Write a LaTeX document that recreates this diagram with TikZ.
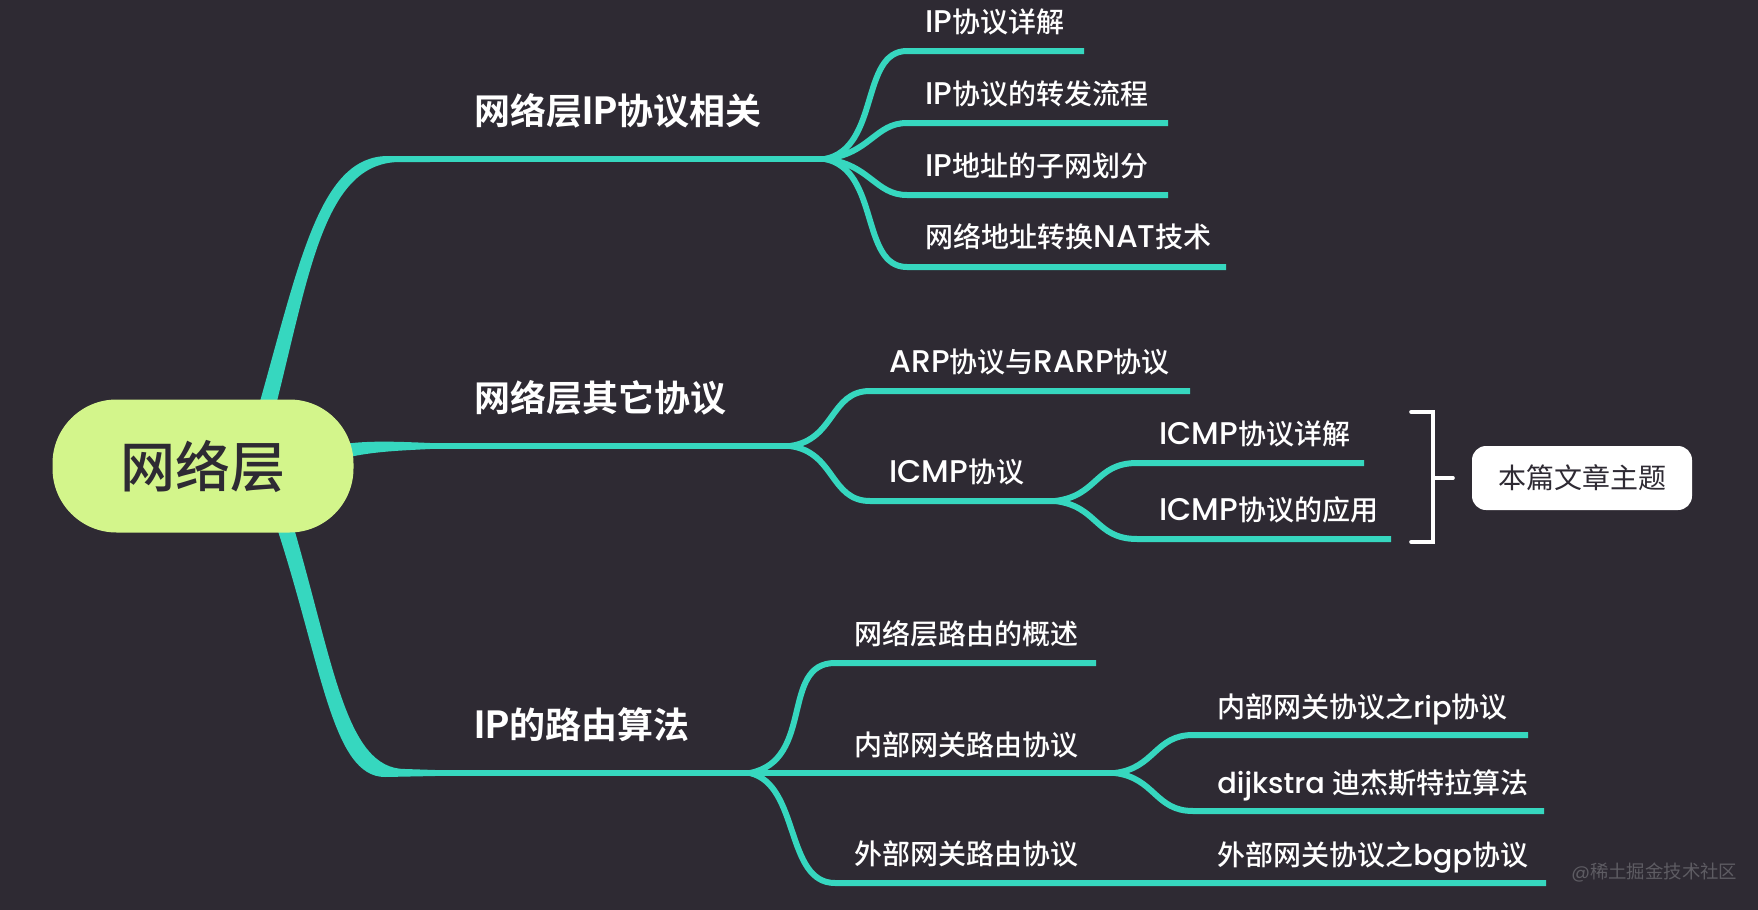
\documentclass[tikz,border=0pt]{standalone}
\usepackage{fontspec}
\setmainfont{Poppins}
\newfontfamily\cjkm{Noto Sans CJK SC Medium}
\newfontfamily\cjkb{Noto Sans CJK SC Bold}
\newfontfamily\cjkr{Noto Sans CJK SC}
\newfontfamily\latb{Poppins SemiBold}
\newfontfamily\latm{Poppins Medium}[Scale=1.03]
\newfontfamily\latcap{Poppins Medium}[Scale=1.12]
\newfontfamily\latbcap{Poppins SemiBold}[Scale=1.1]
\newcommand\zm[1]{{\cjkm #1}}
\newcommand\zb[1]{{\cjkb #1}}
\newcommand\cp[1]{{\latcap #1}}
\newcommand\cpb[1]{{\latbcap #1}}
\definecolor{bgc}{HTML}{2E2A33}
\definecolor{teal1}{HTML}{36D7BF}
\definecolor{rootc}{HTML}{D3F58B}
\definecolor{wmark}{HTML}{5E5C63}
\tikzset{
  x=0.5pt,y=-0.5pt,
  branch/.style={draw=teal1,line width=3pt,line cap=butt},
  trunk/.style={fill=teal1,draw=none},
  label/.style={anchor=west,inner sep=0pt,text=white,text height=.88em,text depth=.12em,font=\fontsize{14}{16}\selectfont\latm},
  big/.style={anchor=west,inner sep=0pt,text=white,text height=.88em,text depth=.12em,font=\fontsize{18}{20}\selectfont\latb},
  bracketline/.style={draw=white,line width=1.8pt,line cap=round,line join=miter},
}
\begin{document}
\begin{tikzpicture}
\useasboundingbox[fill=bgc] (0,0) rectangle (1758,910);
% named points
\coordinate (t1) at (385,159);
\coordinate (t2) at (420,446);
\coordinate (t3) at (400,773);
\coordinate (h1) at (825,159);
\coordinate (h2) at (790,446);
\coordinate (h3) at (750,773);
\coordinate (h4) at (1115,773);
\coordinate (h5) at (1055,501);
% trunks
\fill[trunk] (259,405) .. controls (300,260) and (320,156) .. (388,156) -- (430,156) -- (430,162) -- (400,162) .. controls (325,162) and (310,270) .. (276,405) -- cycle;
\fill[trunk] (340,444.5) .. controls (365,441) and (385,441) .. (430,443) -- (430,449) .. controls (390,451) and (370,452) .. (340,459) -- cycle;
\fill[trunk] (276,525) .. controls (322,665) and (332,777) .. (385,777) -- (435,776) -- (435,770) -- (405,769) .. controls (346,769) and (334,665) .. (293,525) -- cycle;
% main horizontals
\draw[branch] (t1) -- (h1);
\draw[branch] (t2) -- (h2);
\draw[branch] (t3) -- (h3);
% level 2, branch 1
\coordinate (e11) at (1084,51);
\coordinate (e12) at (1168,123);
\coordinate (e13) at (1168,195);
\coordinate (e14) at (1226,267);
\draw[branch] (h1) .. controls (880,148) and (860,51) .. (907,51) -- (e11);
\draw[branch] (h1) .. controls (870,154) and (875,123) .. (907,123) -- (e12);
\draw[branch] (h1) .. controls (870,164) and (875,195) .. (907,195) -- (e13);
\draw[branch] (h1) .. controls (880,170) and (860,267) .. (907,267) -- (e14);
% branch 2
\coordinate (e21) at (1190,391);
\draw[branch] (h2) .. controls (835,440) and (830,391) .. (870,391) -- (e21);
\draw[branch] (h2) .. controls (835,452) and (830,501) .. (870,501) -- (h5);
\coordinate (e22) at (1364,463);
\coordinate (e23) at (1391,539);
\draw[branch] (h5) .. controls (1098,496) and (1095,463) .. (1137,463) -- (e22);
\draw[branch] (h5) .. controls (1098,506) and (1095,539) .. (1137,539) -- (e23);
% branch 3
\coordinate (e31) at (1096,663);
\coordinate (e34) at (1546,883);
\coordinate (e32) at (1528,735);
\coordinate (e33) at (1544,811);
\draw[branch] (h3) .. controls (815,760) and (780,663) .. (835,663) -- (e31);
\draw[branch] (h3) -- (h4);
\draw[branch] (h3) .. controls (800,785) and (785,883) .. (835,883) -- (e34);
\draw[branch] (h4) .. controls (1155,768) and (1155,735) .. (1193,735) -- (e32);
\draw[branch] (h4) .. controls (1155,778) and (1155,811) .. (1193,811) -- (e33);
% root
\node[fill=rootc,rounded corners=32pt,minimum width=150.5pt,minimum height=66.5pt,inner sep=0pt,text=bgc,font=\fontsize{27.5}{30}\selectfont] (root) at (203,466) {\raisebox{1.2pt}{\zm{网络层}}};
% big labels
\node[big] (b1) at (474,117) {\zb{网络层}\cpb{IP}\zb{协议相关}};
\node[big] (b2) at (474,404) {\zb{网络层其它协议}};
\node[big] (b3) at (474,731) {\cpb{IP}\zb{的路由算法}};
% labels
\node[label] (l11) at (925,25) {\cp{IP}\zm{协议详解}};
\node[label] (l12) at (925,97) {\cp{IP}\zm{协议的转发流程}};
\node[label] (l13) at (925,169) {\cp{IP}\zm{地址的子网划分}};
\node[label] (l14) at (925,240) {\zm{网络地址转换}\cp{NAT}\zm{技术}};
\node[label] (l21) at (889,365) {\cp{ARP}\zm{协议与}\cp{RARP}\zm{协议}};
\node[label] (l22) at (889,475) {\cp{ICMP}\zm{协议}};
\node[label] (l23) at (1159,437) {\cp{ICMP}\zm{协议详解}};
\node[label] (l24) at (1159,513) {\cp{ICMP}\zm{协议的应用}};
\node[label] (l31) at (854,637) {\zm{网络层路由的概述}};
\node[label] (l32) at (854,748) {\zm{内部网关路由协议}};
\node[label] (l33) at (854,857) {\zm{外部网关路由协议}};
\node[label] (l34) at (1217,710) {\zm{内部网关协议之}rip\zm{协议}};
\node[label] (l35) at (1217,786) {dijkstra \zm{迪杰斯特拉算法}};
\node[label] (l36) at (1217,858) {\zm{外部网关协议之}bgp\zm{协议}};
% bracket + tag
\node[fill=white,rounded corners=7pt,minimum width=110pt,minimum height=32pt,inner sep=0pt,text=bgc,font=\fontsize{14}{16}\selectfont] (tag) at (1582,478) {{\cjkr 本篇文章主题}};
\coordinate (bt) at (1411,412);
\coordinate (btr) at (1433,412);
\coordinate (bbr) at (1433,542);
\coordinate (bb) at (1411,542);
\coordinate (tm) at (1433,478);
\coordinate (tk) at (1453,478);
\draw[bracketline] (bt) -- (btr) -- (bbr) -- (bb);
\draw[bracketline] (tm) -- (tk);
% watermark
\node[anchor=west,inner sep=0pt,text=wmark,font=\fontsize{9.2}{11}\selectfont] (wm) at (1571,873) {@{\cjkr 稀土掘金技术社区}};
\end{tikzpicture}
\end{document}
